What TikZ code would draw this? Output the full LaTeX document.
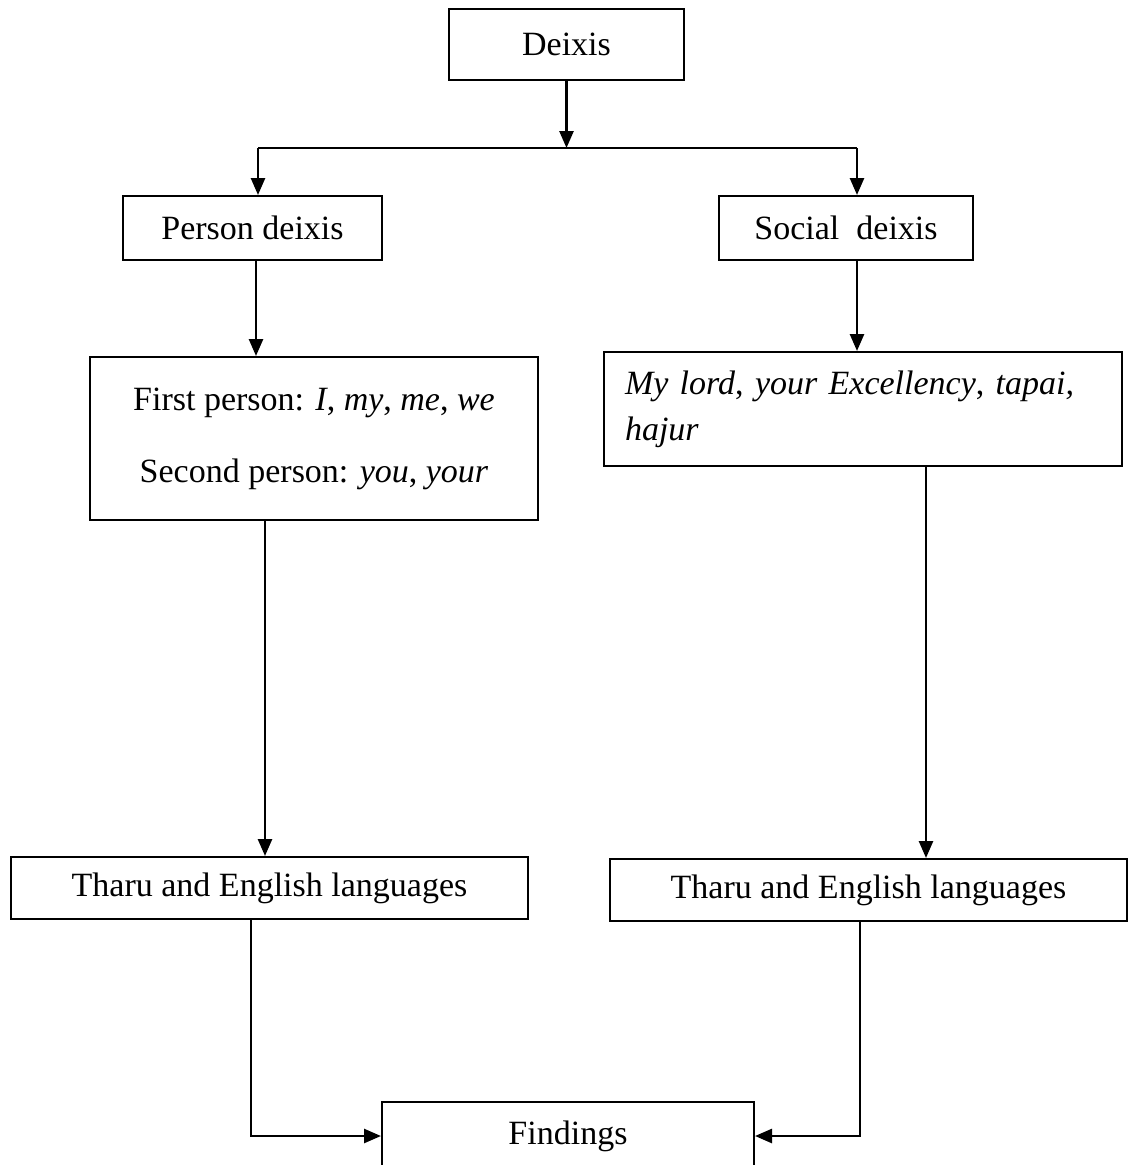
\documentclass[tikz,border=0pt]{standalone}
\usepackage{fontspec}
\setmainfont{Liberation Serif}
\usetikzlibrary{arrows.meta,calc}
\begin{document}
\begin{tikzpicture}[x=1pt,y=-1pt,
  box/.style={draw,line width=2pt,inner sep=0pt,font=\fontsize{34}{40}\selectfont},
  arr/.style={line width=2.6pt,-{Triangle[length=17pt,width=14pt]}},
  ln/.style={line width=2.6pt}]
\useasboundingbox (0,0) rectangle (1128,1165);
\clip (0,0) rectangle (1128,1165);
\node[box,minimum width=235pt,minimum height=71pt] (deixis) at (566.5,44.5) {Deixis};
\node[box,minimum width=259pt,minimum height=64pt] (person) at (252.5,228) {Person deixis};
\node[box,minimum width=254pt,minimum height=64pt] (social) at (846,228) {Social\ \ deixis};
\node[box,minimum width=448pt,minimum height=163pt,align=center,font=\fontsize{34}{72}\selectfont] (fp) at (314,438.5)
  {First person: \textit{I}, \textit{my}, \textit{me}, \textit{we}\\Second person: \textit{you}, \textit{your}};
\node[box,minimum width=518pt,minimum height=114pt,text width=476pt,align=left,font=\fontsize{34}{46}\selectfont] (sc) at (863,409)
  {\textit{My lord}, \textit{your Excellency}, \textit{tapai,}\\\textit{hajur}};
\node[box,minimum width=517pt,minimum height=62pt] (tharuL) at (269.5,888) {Tharu and English languages};
\node[box,minimum width=517pt,minimum height=62pt] (tharuR) at (868.5,890) {Tharu and English languages};
\node[box,minimum width=372pt,minimum height=68pt] (findings) at (568,1136) {Findings};
\coordinate (junc) at (566.5,148);
\coordinate (jl) at (258,148);
\coordinate (jr) at (857,148);
\draw[arr] (deixis.south) -- (junc);
\draw[ln] (jl) -- (jr);
\draw[arr] (jl) -- (jl |- person.north);
\draw[arr] (jr) -- (jr |- social.north);
\coordinate (pa) at (256,0);
\draw[arr] (pa |- person.south) -- (pa |- fp.north);
\draw[arr] (jr |- social.south) -- (jr |- sc.north);
\coordinate (fa) at (265,0);
\draw[arr] (fa |- fp.south) -- (fa |- tharuL.north);
\coordinate (sa) at (926,0);
\draw[arr] (sa |- sc.south) -- (sa |- tharuR.north);
\draw[arr] ([xshift=-18.5pt]tharuL.south) |- (findings.west);
\draw[arr] ([xshift=-8.5pt]tharuR.south) |- (findings.east);
\end{tikzpicture}
\end{document}
